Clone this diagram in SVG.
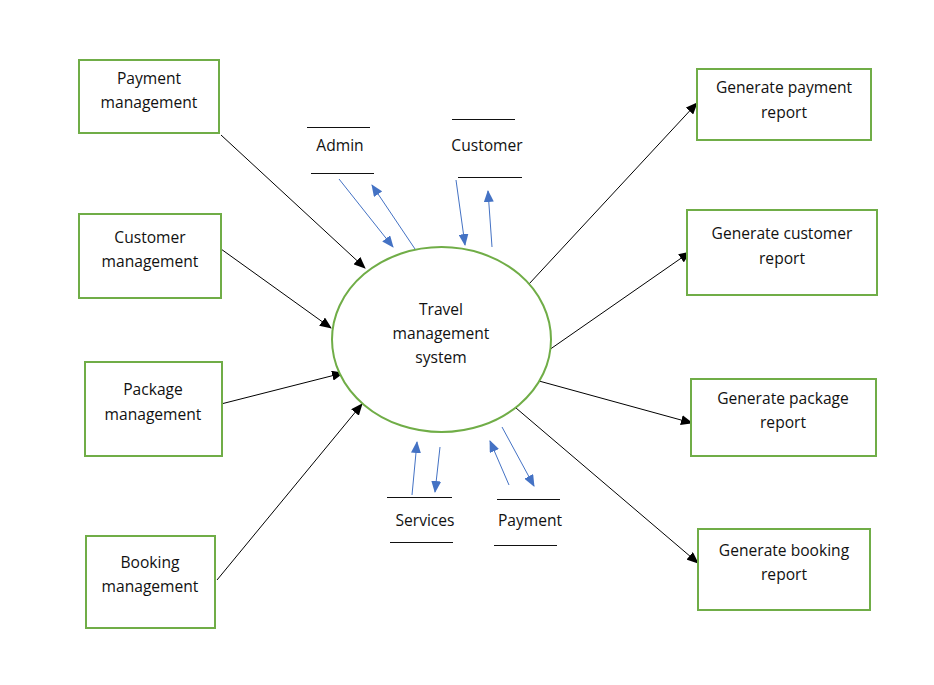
<svg xmlns="http://www.w3.org/2000/svg" width="934" height="685" viewBox="0 0 934 685">
<style>
.box{fill:#fff;stroke:#70AD47;stroke-width:2}
.t{font-family:"Open Sans","Liberation Sans",sans-serif;font-size:15.6px;fill:#111;text-anchor:middle}
.k{stroke:#000;stroke-width:1;fill:none;marker-end:url(#ak)}
.b{stroke:#4472C4;stroke-width:1;fill:none;marker-end:url(#ab)}
.s{stroke:#111;stroke-width:1}
</style>
<defs>
<marker id="ak" markerWidth="12" markerHeight="10" refX="11" refY="5" orient="auto" markerUnits="userSpaceOnUse"><path d="M0,0 L12,5 L0,10 z" fill="#000"/></marker>
<marker id="ab" markerWidth="12" markerHeight="10" refX="11" refY="5" orient="auto" markerUnits="userSpaceOnUse"><path d="M0,0 L12,5 L0,10 z" fill="#4472C4"/></marker>
</defs>
<rect width="934" height="685" fill="#fff"/>
<g id="connectors">
<line class="k" x1="221" y1="135" x2="365" y2="268"/>
<line class="k" x1="221" y1="249" x2="331" y2="328"/>
<line class="k" x1="221" y1="404" x2="343" y2="373"/>
<line class="k" x1="217" y1="580" x2="362" y2="404"/>
<line class="k" x1="529" y1="284" x2="697" y2="103"/>
<line class="k" x1="549" y1="350" x2="690" y2="252"/>
<line class="k" x1="539" y1="381" x2="692" y2="423"/>
<line class="k" x1="516" y1="408" x2="698" y2="563"/>
<line class="b" x1="339" y1="179" x2="393" y2="247"/>
<line class="b" x1="415" y1="249" x2="372" y2="185"/>
<line class="b" x1="456" y1="180" x2="465" y2="245"/>
<line class="b" x1="492" y1="247" x2="488" y2="191"/>
<line class="b" x1="412" y1="495" x2="417" y2="442"/>
<line class="b" x1="440" y1="447" x2="435" y2="492"/>
<line class="b" x1="509" y1="485" x2="490" y2="441"/>
<line class="b" x1="502" y1="427" x2="534" y2="486"/>
</g>
<g id="center">
<ellipse cx="441.5" cy="339.5" rx="109.5" ry="92.5" fill="#fff" stroke="#70AD47" stroke-width="2"/>
<text class="t" x="441" y="315">Travel</text>
<text class="t" x="441" y="339">management</text>
<text class="t" x="441" y="363">system</text>
</g>
<g id="admin">
<line class="s" x1="307" y1="127.5" x2="370" y2="127.5"/>
<line class="s" x1="311" y1="173.5" x2="374" y2="173.5"/>
<text class="t" x="340" y="151">Admin</text>
</g>
<g id="customer">
<line class="s" x1="452" y1="119.5" x2="515" y2="119.5"/>
<line class="s" x1="458" y1="177.5" x2="522" y2="177.5"/>
<text class="t" x="487" y="151">Customer</text>
</g>
<g id="services">
<line class="s" x1="387" y1="497.5" x2="452" y2="497.5"/>
<line class="s" x1="390" y1="542.5" x2="453" y2="542.5"/>
<text class="t" x="425" y="526">Services</text>
</g>
<g id="payment">
<line class="s" x1="497" y1="499.5" x2="560" y2="499.5"/>
<line class="s" x1="494" y1="545.5" x2="557" y2="545.5"/>
<text class="t" x="530" y="526">Payment</text>
</g>
<g id="payment-management">
<rect class="box" x="79" y="60" width="140" height="73"/>
<text class="t" x="149" y="84">Payment</text>
<text class="t" x="149" y="108">management</text>
</g>
<g id="customer-management">
<rect class="box" x="79" y="214" width="142" height="84"/>
<text class="t" x="150" y="243">Customer</text>
<text class="t" x="150" y="267">management</text>
</g>
<g id="package-management">
<rect class="box" x="85" y="362" width="137" height="94"/>
<text class="t" x="153" y="395">Package</text>
<text class="t" x="153" y="420">management</text>
</g>
<g id="booking-management">
<rect class="box" x="86" y="536" width="129" height="92"/>
<text class="t" x="150" y="568">Booking</text>
<text class="t" x="150" y="592">management</text>
</g>
<g id="gen-payment">
<rect class="box" x="697" y="69" width="174" height="71"/>
<text class="t" x="784" y="93">Generate payment</text>
<text class="t" x="784" y="118">report</text>
</g>
<g id="gen-customer">
<rect class="box" x="687" y="210" width="190" height="85"/>
<text class="t" x="782" y="239">Generate customer</text>
<text class="t" x="782" y="264">report</text>
</g>
<g id="gen-package">
<rect class="box" x="691" y="379" width="185" height="77"/>
<text class="t" x="783" y="404">Generate package</text>
<text class="t" x="783" y="428">report</text>
</g>
<g id="gen-booking">
<rect class="box" x="698" y="529" width="172" height="81"/>
<text class="t" x="784" y="556">Generate booking</text>
<text class="t" x="784" y="580">report</text>
</g>
</svg>
